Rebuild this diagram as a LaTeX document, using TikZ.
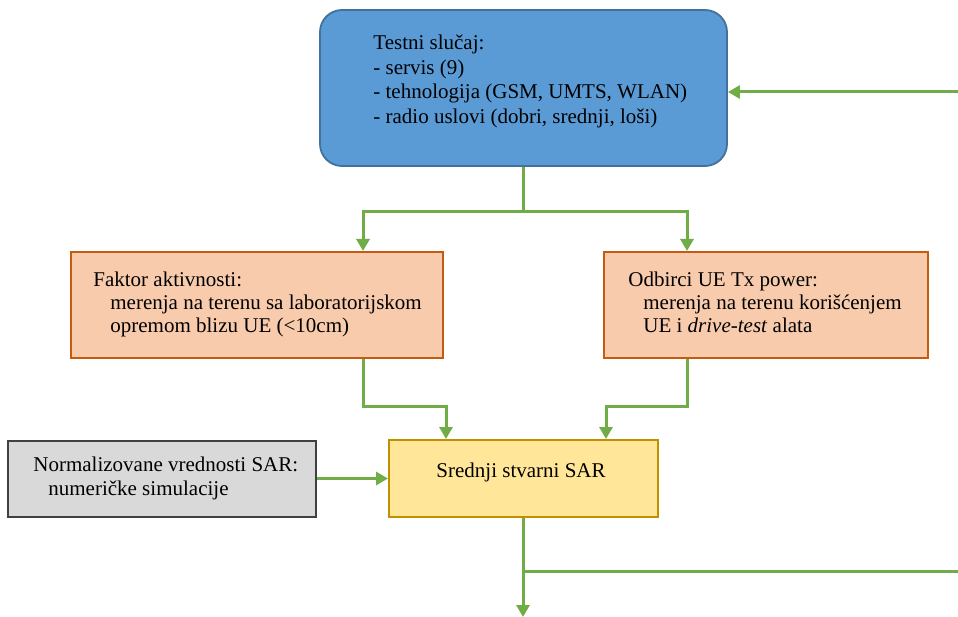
\documentclass[tikz,border=0pt]{standalone}
\usepackage{fontspec}
\setmainfont{Liberation Serif}
\usetikzlibrary{arrows.meta}

\definecolor{flowgreen}{RGB}{112,173,71}
\definecolor{testfill}{RGB}{91,155,213}
\definecolor{testline}{RGB}{65,113,156}
\definecolor{orfill}{RGB}{248,203,173}
\definecolor{orline}{RGB}{197,90,17}
\definecolor{sarfill}{RGB}{255,230,153}
\definecolor{sarline}{RGB}{191,144,0}
\definecolor{normfill}{RGB}{217,217,217}
\definecolor{normline}{RGB}{64,64,64}

\tikzset{
  every picture/.style={line width=0.75pt},
  box/.style={draw, line width=2pt, inner sep=0pt},
  txt/.style={anchor=north west, inner sep=0pt, align=left, font=\fontsize{21}{24.5}\selectfont},
  link/.style={draw=flowgreen, line width=3pt},
  flow/.style={link, -{Triangle[length=12pt,width=13pt]}},
}

\begin{document}
\begin{tikzpicture}[x=1pt,y=1pt,yscale=-1]
		\useasboundingbox (0,0) rectangle (958,617);
		
		% boxes
		\node [box, draw=testline, fill=testfill, rounded corners=22pt, line width=1.8pt, minimum width=407pt, minimum height=156pt] (test) at (523.5,88) {};
		\node [box, draw=orline, fill=orfill, minimum width=372pt, minimum height=106pt] (faktor) at (257,305) {};
		\node [box, draw=orline, fill=orfill, minimum width=324pt, minimum height=106pt] (odbirci) at (766,305) {};
		\node [box, draw=sarline, fill=sarfill, minimum width=269pt, minimum height=77pt] (sar) at (523.5,478.5) {};
		\node [box, draw=normline, fill=normfill, minimum width=308pt, minimum height=76pt] (norm) at (162,478.5) {};
		
		% texts
		\node [txt] (testtxt) at (373,35) {Testni slučaj:\\- servis (9)\\- tehnologija (GSM, UMTS, WLAN)\\- radio uslovi (dobri, srednji, loši)};
		\node [txt, font=\fontsize{21}{23}\selectfont] (faktortxt) at (93,272) {Faktor aktivnosti:\\\hspace*{17pt}merenja na terenu sa laboratorijskom\\\hspace*{17pt}opremom blizu UE (<10cm)};
		\node [txt, font=\fontsize{21}{23}\selectfont] (odbircitxt) at (628,272) {Odbirci UE Tx power:\\\hspace*{15pt}merenja na terenu korišćenjem\\\hspace*{15pt}UE i \textit{drive-test} alata};
		\node [txt, font=\fontsize{21}{24}\selectfont] (normtxt) at (33,457) {Normalizovane vrednosti SAR:\\\hspace*{15pt}numeričke simulacije};
		\node [font=\fontsize{21}{24}\selectfont, inner sep=0pt] (sartxt) at (521,472) {Srednji stvarni SAR};
		
		% connectors
		\coordinate (j1) at (523,212);
		\coordinate (aL) at (363,212);
		\coordinate (aR) at (687,212);
		\coordinate (bL) at (446,406);
		\coordinate (bR) at (606,406);
		\coordinate (inR) at (958,92);
		\coordinate (j2) at (523,571);
		\coordinate (outR) at (958,571);
		\coordinate (outB) at (523,617);
		
		\draw [link] (test.south -| j1) -- (j1);
		\draw [link, line cap=rect] (aL) -- (aR);
		\draw [flow] (aL) -- (aL |- faktor.north);
		\draw [flow] (aR) -- (aR |- odbirci.north);
		\draw [flow] (inR) -- (inR -| test.east);
		\draw [flow] (aL |- faktor.south) |- (bL) -- (bL |- sar.north);
		\draw [flow] (aR |- odbirci.south) |- (bR) -- (bR |- sar.north);
		\draw [flow] (norm.east) -- (norm.east -| sar.west);
		\draw [flow] (j1 |- sar.south) -- (outB);
		\draw [link] (j2) -- (outR);
	\end{tikzpicture}
\end{document}
